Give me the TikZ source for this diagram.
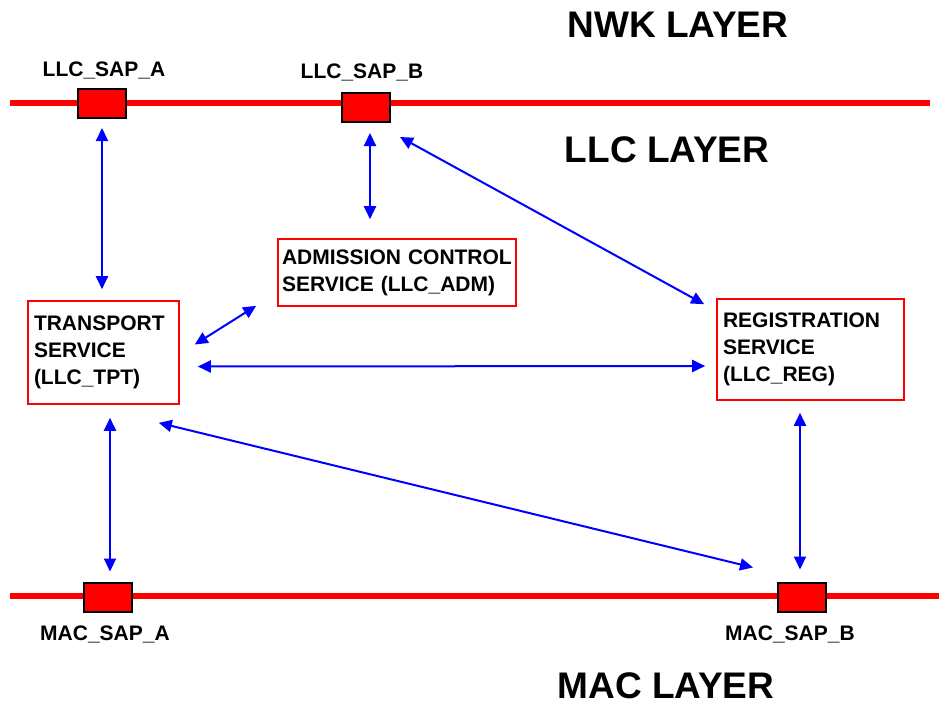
\documentclass[tikz,border=0pt]{standalone}
\usepackage{fontspec}
\setmainfont{Liberation Sans}
\usetikzlibrary{arrows.meta, calc}

\begin{document}
\begin{tikzpicture}[x=1pt, y=-1pt,
    layername/.style={font=\fontsize{37}{40}\selectfont\bfseries},
    saplabel/.style={font=\fontsize{21}{25}\selectfont\bfseries},
    sapbox/.style={draw=black, fill=red, line width=2pt, minimum width=48pt, minimum height=29pt, inner sep=0pt},
    service/.style={draw=red, line width=1.6pt, align=left, inner xsep=6pt, inner ysep=0pt, font=\fontsize{21}{27}\selectfont\bfseries},
    link/.style={{Triangle[length=13pt,width=12pt]}-{Triangle[length=13pt,width=12pt]}, blue, line width=2pt},
    bus/.style={red, line width=6pt}]
        \useasboundingbox (0,0) rectangle (939,706);

        % layer names
        \node[layername] (nwk) at (678,25) {NWK LAYER};
        \node[layername] (llc) at (667,150) {LLC LAYER};
        \node[layername] (mac) at (666,686) {MAC LAYER};

        % the two buses
        \coordinate (topL) at (10,103);
        \coordinate (topR) at (930,103);
        \coordinate (botL) at (10,596);
        \coordinate (botR) at (939,596);
        \draw[bus] (topL) -- (topR);
        \draw[bus] (botL) -- (botR);

        % service access points
        \node[sapbox] (sapA) at (102,103.5) {};
        \node[saplabel] (sapAname) at (104,70) {LLC\_SAP\_A};
        \node[sapbox] (sapB) at (366,107.5) {};
        \node[saplabel] (sapBname) at (362,72) {LLC\_SAP\_B};
        \node[sapbox] (macA) at (108,597) {};
        \node[saplabel] (macAname) at (105,634) {MAC\_SAP\_A};
        \node[sapbox] (macB) at (802,597) {};
        \node[saplabel] (macBname) at (790,634) {MAC\_SAP\_B};

        % services
        \node[service, text width=139pt, minimum height=103pt] (tpt) at (103.5,352.5)
            {TRANSPORT\\SERVICE\\(LLC\_TPT)};
        \node[service, inner xsep=4pt, text width=230pt, minimum height=67pt] (adm) at (397,272.5)
            {ADMISSION CONTROL\\SERVICE (LLC\_ADM)};
        \node[service, text width=175pt, minimum height=101pt] (reg) at (810.5,349.5)
            {REGISTRATION\\SERVICE\\(LLC\_REG)};

        % feet of the vertical links
        \coordinate (sapBfoot) at ($(sapB.south)+(4,0)$);
        \coordinate (macAtop) at ($(macA.north)+(2,0)$);
        \coordinate (macBtop) at ($(macB.north)+(-2,0)$);

        % links
        \draw[link, shorten <=9pt, shorten >=11pt] (sapA.south) -- (sapA.south |- tpt.north);
        \draw[link, shorten <=10pt, shorten >=19pt] (sapBfoot) -- (sapBfoot |- adm.north);
        \draw[link] ($(sapB.south east)+(9,14)$) -- ($(reg.north west)+(-12,6)$);
        \draw[link] ($(tpt.east)+(15,-8)$) -- ($(adm.south west)+(-21,-1)$);
        \draw[link] ($(tpt.east)+(18,14)$) -- ($(reg.west)+(-11,16.5)$);
        \draw[link] ($(tpt.south east)+(-21,18)$) -- ($(macB.north west)+(-24,-14)$);
        \draw[link, shorten <=10pt, shorten >=13pt] (macAtop) -- (macAtop |- tpt.south);
        \draw[link, shorten <=12pt, shorten >=12pt] (macBtop) -- (macBtop |- reg.south);

    \end{tikzpicture}
\end{document}
